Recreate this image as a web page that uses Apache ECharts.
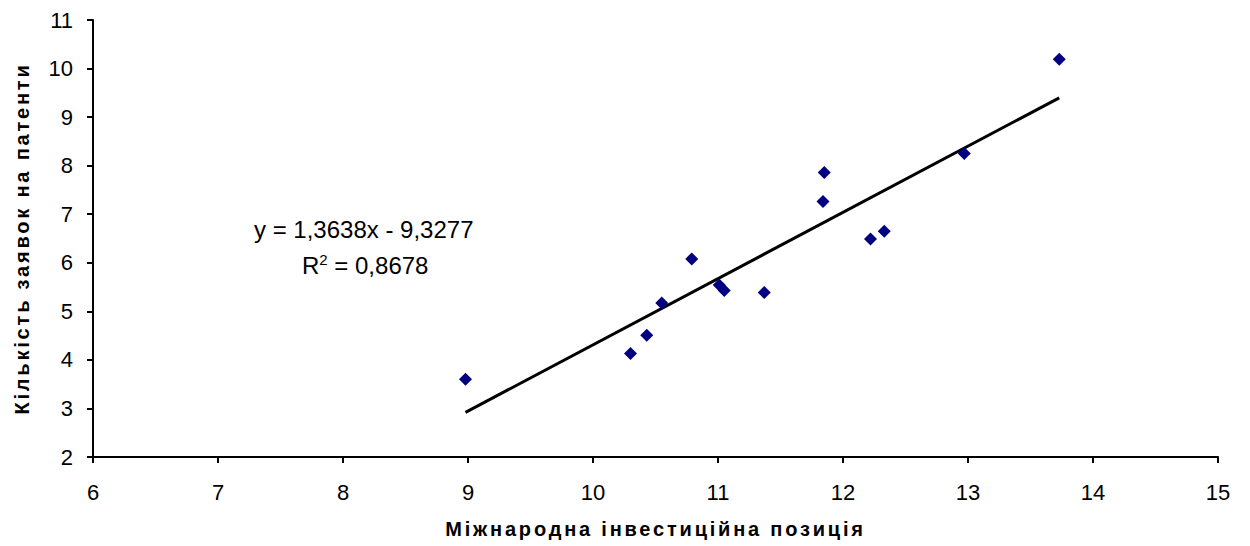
<!DOCTYPE html>
<html>
<head>
<meta charset="utf-8">
<script src="https://cdn.jsdelivr.net/npm/echarts@6/dist/echarts.min.js"></script>
<style>
  html, body { margin: 0; padding: 0; background: #fff; overflow: hidden; }
  #chart { width: 1250px; height: 546px; }
  /* axis titles are set with wide tracking */
  #chart svg text[style*="bold"],
  #chart svg text[font-weight="bold"] { letter-spacing: 2.8px; }
</style>
</head>
<body>
<div id="chart"></div>
<script>
// Міжнародна інвестиційна позиція (x) vs кількість заявок на патенти (y)
const investPosition = [8.98, 10.30, 10.43, 10.55, 10.79, 11.01, 11.05, 11.37, 11.84, 11.85, 12.22, 12.33, 12.97, 13.73];
const patentApps     = [3.60, 4.13, 4.51, 5.17, 6.08, 5.54, 5.43, 5.39, 7.26, 7.86, 6.49, 6.65, 8.25, 10.19];

// Linear trend coefficients and fit quality
const slope = 1.3638;
const intercept = -9.3277;
const rSquared = 0.8678;

const xTicks = [6, 7, 8, 9, 10, 11, 12, 13, 14, 15];
const yTicks = [2, 3, 4, 5, 6, 7, 8, 9, 10, 11];

const points = investPosition.map((x, i) => [x, patentApps[i]]);
const xMin = Math.min(...investPosition);
const xMax = Math.max(...investPosition);
const trend = [xMin, xMax].map(x => [x, slope * x + intercept]);

const fmt = v => v.toFixed(4).replace('.', ',');
const font = '"Liberation Sans", Arial, sans-serif';

const chart = echarts.init(document.getElementById('chart'), null, { renderer: 'svg' });
chart.setOption({
  animation: false,
  backgroundColor: '#ffffff',
  grid: { left: 93, right: 32, top: 20, bottom: 89, containLabel: false, outerBoundsMode: 'none' },
  xAxis: {
    type: 'value',
    min: xTicks[0], max: xTicks[xTicks.length - 1], interval: 1,
    name: 'Міжнародна інвестиційна позиція',
    nameLocation: 'middle', nameGap: 62,
    nameTextStyle: { fontFamily: font, fontSize: 20, fontWeight: 'bold', color: '#000' },
    axisLine: { show: true, lineStyle: { color: '#000', width: 2 } },
    axisTick: { show: true, inside: false, length: 6, lineStyle: { color: '#000', width: 2 } },
    axisLabel: { fontFamily: font, fontSize: 22, color: '#000', margin: 24 },
    splitLine: { show: false }
  },
  yAxis: {
    type: 'value',
    min: yTicks[0], max: yTicks[yTicks.length - 1], interval: 1,
    name: 'Кількість заявок на патенти',
    nameLocation: 'middle', nameGap: 61,
    nameTextStyle: { fontFamily: font, fontSize: 20, fontWeight: 'bold', color: '#000' },
    axisLine: { show: true, lineStyle: { color: '#000', width: 2 } },
    axisTick: { show: true, inside: false, length: 6, lineStyle: { color: '#000', width: 2 } },
    axisLabel: { fontFamily: font, fontSize: 22, color: '#000', margin: 20 },
    splitLine: { show: false }
  },
  series: [
    {
      type: 'line',
      data: trend,
      symbol: 'none',
      lineStyle: { color: '#000', width: 3 },
      z: 2
    },
    {
      type: 'scatter',
      data: points,
      symbol: 'diamond',
      symbolSize: 13,
      itemStyle: { color: '#000080', opacity: 1 },
      z: 3
    }
  ],
  graphic: [
    {
      type: 'text',
      left: 254, top: 217,
      style: {
        text: 'y = ' + fmt(slope) + 'x - ' + fmt(-intercept),
        font: '24px ' + font,
        fill: '#000'
      }
    },
    {
      type: 'text',
      left: 302, top: 252,
      style: {
        text: '{r|R}{s|2}{r| = ' + fmt(rSquared) + '}',
        rich: {
          r: { fontFamily: font, fontSize: 24, fill: '#000', color: '#000', verticalAlign: 'bottom' },
          s: { fontFamily: font, fontSize: 15, fill: '#000', color: '#000', verticalAlign: 'top', padding: [0, 0, 10, 0] }
        }
      }
    }
  ]
});
</script>
</body>
</html>
